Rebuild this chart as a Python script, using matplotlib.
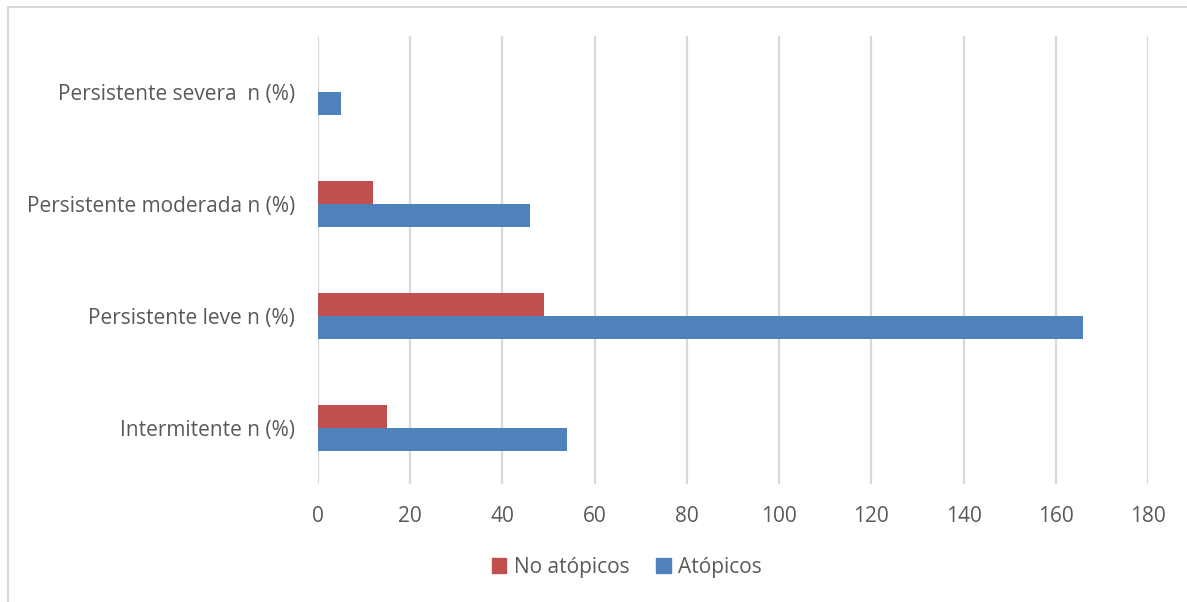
import matplotlib.pyplot as plt
from matplotlib.lines import Line2D
from matplotlib.patches import Patch
import numpy as np

plt.rcParams['font.family'] = ['Open Sans', 'DejaVu Sans']

categorias = ['Intermitente n (%)', 'Persistente leve n (%)',
              'Persistente moderada n (%)', 'Persistente severa  n (%)']
no_atopicos = [15, 49, 12, 0]
atopicos = [54, 166, 46, 5]
ticks_x = [0, 20, 40, 60, 80, 100, 120, 140, 160, 180]

rojo = '#c0504d'
azul = '#4f81bd'
gris_texto = '#595959'
gris_linea = '#d9d9d9'

W, H = 1187, 602
fig = plt.figure(figsize=(W / 100, H / 100), dpi=100)
# plot area in pixels: x 318..1148, y 36..484
ax = fig.add_axes([318 / W, 1 - 484 / H, (1148 - 318) / W, (484 - 36) / H])

y = np.arange(len(categorias))
h = 0.205
ax.barh(y - h / 2, atopicos, height=h, color=azul, edgecolor='none',
        label='Atópicos', zorder=3)
ax.barh(y + h / 2, no_atopicos, height=h, color=rojo, edgecolor='none',
        label='No atópicos', zorder=3)

ax.set_xlim(0, 180)
ax.set_ylim(-0.5, len(categorias) - 0.5)
ax.set_xticks(ticks_x)
ax.set_yticks(y)
ax.set_yticklabels(categorias)
ax.tick_params(axis='both', length=0, labelsize=15, colors=gris_texto)
ax.tick_params(axis='x', pad=16)
ax.tick_params(axis='y', pad=16.5)
ax.grid(axis='x', color=gris_linea, linewidth=1.6, zorder=0)
for s in ax.spines.values():
    s.set_visible(False)

# legend
handles = [Patch(color=rojo, label='No atópicos'), Patch(color=azul, label='Atópicos')]
fig.legend(handles=handles, loc='center', bbox_to_anchor=(627 / W, 1 - 567 / H),
           ncol=2, frameon=False, fontsize=15, handlelength=0.7,
           handleheight=0.7, handletextpad=0.35, columnspacing=1.3,
           labelcolor=gris_texto)

# chart border (top and left edges)
fig.add_artist(Line2D([8 / W, 1], [1 - 6.5 / H, 1 - 6.5 / H], color=gris_linea,
                      linewidth=1.5, transform=fig.transFigure))
fig.add_artist(Line2D([8 / W, 8 / W], [0, 1 - 6.5 / H], color=gris_linea,
                      linewidth=1.5, transform=fig.transFigure))

fig.savefig('out.png', dpi=100)
